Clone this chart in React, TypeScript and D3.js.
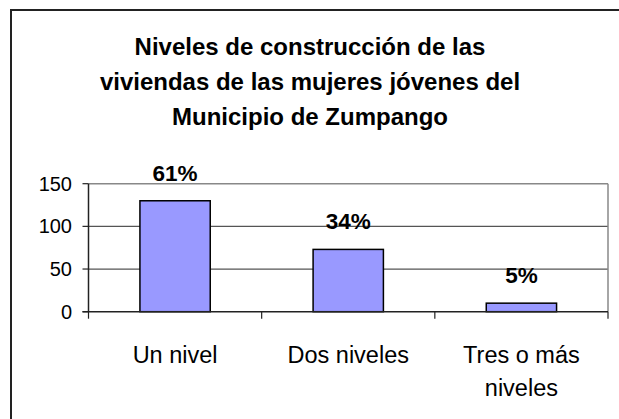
import React from "react";
import * as d3 from "d3";

const categories: string[][] = [["Un nivel"], ["Dos niveles"], ["Tres o más", "niveles"]];
const values: number[] = [130, 73, 10];
const percentLabels: string[] = ["61%", "34%", "5%"];
const yTicks: number[] = [0, 50, 100, 150];
const titleLines: string[] = [
  "Niveles de construcción de las",
  "viviendas de las mujeres jóvenes del",
  "Municipio de Zumpango",
];

export default function App() {
  const W = 619, H = 419;
  const left = 88.5, right = 608, top = 183.7, bottom = 311.7;
  const x = d3.scaleBand<number>().domain(d3.range(values.length)).range([left, right]).paddingInner(0.594).paddingOuter(0.297);
  const cat = d3.scaleBand<number>().domain(d3.range(values.length)).range([left, right]);
  const y = d3.scaleLinear().domain([0, 150]).range([bottom, top]);
  const font = "'Liberation Sans', Arial, sans-serif";
  return (
    <svg width={W} height={H} style={{ position: "absolute", left: 0, top: 0, background: "#fff" }} fontFamily={font}>
      <rect x={11} y={10} width={700} height={500} fill="#fff" stroke="#222" strokeWidth={2} />
      {titleLines.map((t, i) => (
        <text key={i} x={310} y={55 + i * 35} textAnchor="middle" fontWeight="bold" fontSize={24}>{t}</text>
      ))}
      {yTicks.filter(v => v > 0 && v < 150).map(v => (
        <line key={v} x1={left} x2={right} y1={y(v)} y2={y(v)} stroke="#555" strokeWidth={1.2} />
      ))}
      <line x1={left} x2={right} y1={y(150)} y2={y(150)} stroke="#888" strokeWidth={1.5} />
      <line x1={right} x2={right} y1={y(150)} y2={bottom} stroke="#888" strokeWidth={1.5} />
      {values.map((v, i) => (
        <rect key={i} x={x(i)!} y={y(v)} width={x.bandwidth()} height={bottom - y(v)} fill="#9999FF" stroke="#000" strokeWidth={1.5} />
      ))}
      <line x1={left} x2={left} y1={y(150)} y2={bottom} stroke="#222" strokeWidth={1.5} />
      <line x1={left - 6} x2={right} y1={bottom} y2={bottom} stroke="#222" strokeWidth={1.5} />
      {yTicks.map(v => (
        <g key={v}>
          <line x1={left - 6} x2={left} y1={y(v)} y2={y(v)} stroke="#222" strokeWidth={1.2} />
          <text x={72} y={y(v) + 7} textAnchor="end" fontSize={20}>{v}</text>
        </g>
      ))}
      {d3.range(values.length + 1).map(i => {
        const xx = i < values.length ? cat(i)! : right;
        return <line key={i} x1={xx} x2={xx} y1={bottom} y2={bottom + 7} stroke="#222" strokeWidth={1.2} />;
      })}
      {values.map((v, i) => (
        <text key={i} x={x(i)! + x.bandwidth() / 2} y={y(v) - 20} textAnchor="middle" fontWeight="bold" fontSize={22.5}>{percentLabels[i]}</text>
      ))}
      {categories.map((lines, i) => (
        <text key={i} textAnchor="middle" fontSize={23.5}>
          {lines.map((l, j) => (
            <tspan key={j} x={cat(i)! + cat.bandwidth() / 2} y={363 + j * 33}>{l}</tspan>
          ))}
        </text>
      ))}
    </svg>
  );
}
